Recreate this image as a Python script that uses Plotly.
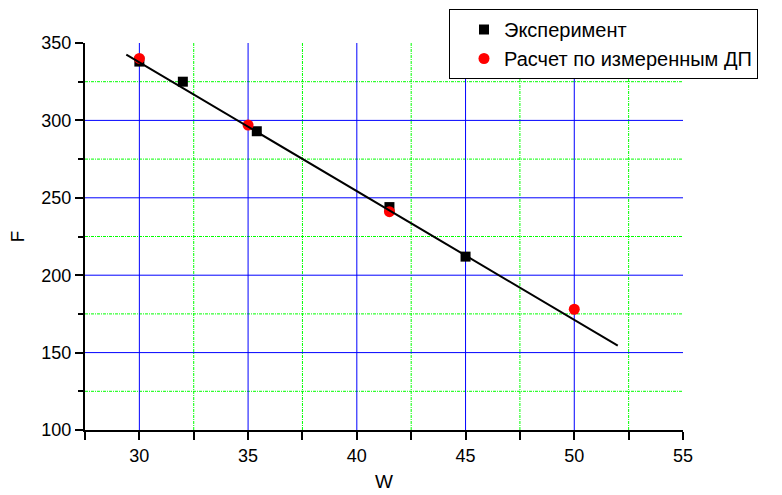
import plotly.graph_objects as go

# Data
exp_w = [30, 32, 35.4, 41.5, 45]
exp_f = [338, 325, 293, 244, 212]
calc_w = [30, 35, 41.5, 50]
calc_f = [340, 297, 241, 178]
fit_w = [29.4, 52.0]
fit_f = [342.5, 154.5]

x_major = [30, 35, 40, 45, 50, 55]
y_major = [100, 150, 200, 250, 300, 350]
x_grid_major = [30, 35, 40, 45, 50]
y_grid_major = [150, 200, 250, 300]
x_grid_minor = [32.5, 37.5, 42.5, 47.5, 52.5]
y_grid_minor = [125, 175, 225, 275, 325]

fig = go.Figure()

fig.add_trace(go.Scatter(x=exp_w, y=exp_f, mode="markers", name="Эксперимент",
                         marker=dict(symbol="square", size=10, color="black")))
fig.add_trace(go.Scatter(x=calc_w, y=calc_f, mode="markers", name="Расчет по измеренным ДП",
                         marker=dict(symbol="circle", size=11, color="#ff0000")))
fig.add_trace(go.Scatter(x=fit_w, y=fit_f, mode="lines", showlegend=False,
                         line=dict(color="black", width=2)))

green_dash = "3px,1px,1px,1px"
shapes = []
for v in x_grid_minor:
    shapes.append(dict(type="line", xref="x", yref="paper", x0=v, x1=v, y0=0, y1=1,
                       line=dict(color="#00ff00", width=1, dash=green_dash), layer="below"))
for v in y_grid_minor:
    shapes.append(dict(type="line", xref="paper", yref="y", x0=0, x1=1, y0=v, y1=v,
                       line=dict(color="#00ff00", width=1, dash=green_dash), layer="below"))
for v in x_grid_major:
    shapes.append(dict(type="line", xref="x", yref="paper", x0=v, x1=v, y0=0, y1=1,
                       line=dict(color="#0000ff", width=1), layer="below"))
for v in y_grid_major:
    shapes.append(dict(type="line", xref="paper", yref="y", x0=0, x1=1, y0=v, y1=v,
                       line=dict(color="#0000ff", width=1), layer="below"))

font_family = "Liberation Sans, Arial, sans-serif"

fig.update_layout(
    width=782, height=495,
    margin=dict(l=85, r=99, t=43, b=65, autoexpand=False),
    paper_bgcolor="white", plot_bgcolor="white",
    font=dict(family=font_family, size=18, color="black"),
    shapes=shapes,
    showlegend=True,
    legend=dict(x=(449 - 85) / 598, y=1 + (43 - 9) / 387, xanchor="left", yanchor="top",
                bordercolor="black", borderwidth=1, bgcolor="white",
                font=dict(size=20, family=font_family), indentation=14,
                entrywidth=320, entrywidthmode="pixels", tracegroupgap=0),
    xaxis=dict(range=[27.5, 55], tickvals=x_major, showgrid=False, zeroline=False,
               showline=True, linecolor="black", linewidth=2,
               ticks="outside", ticklen=8, tickwidth=1.5, tickcolor="black",
               minor=dict(tickvals=[27.5] + x_grid_minor, ticks="outside", ticklen=8,
                          tickwidth=1.5, tickcolor="black", showgrid=False),
               title=dict(text="W", font=dict(size=19), standoff=10),
               tickfont=dict(size=18)),
    yaxis=dict(range=[100, 350], tickvals=y_major, showgrid=False, zeroline=False,
               showline=True, linecolor="black", linewidth=2,
               ticks="outside", ticklen=8, tickwidth=1.5, tickcolor="black",
               minor=dict(tickvals=y_grid_minor, ticks="outside", ticklen=5,
                          tickwidth=1.5, tickcolor="black", showgrid=False),
               title=dict(text="F", font=dict(size=19), standoff=12),
               tickfont=dict(size=18)),
)

fig.write_html("out.html")
